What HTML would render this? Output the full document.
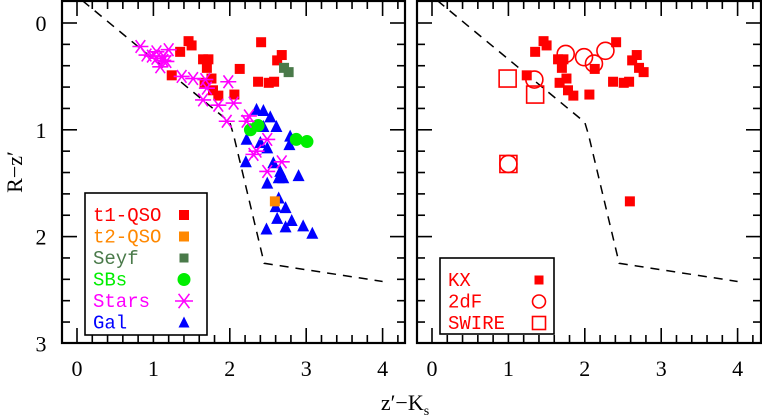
<!DOCTYPE html>
<html><head><meta charset="utf-8"><style>
html,body{margin:0;padding:0;background:#fff;}
svg{display:block;font-family:"Liberation Serif",serif;}
.lg{font-family:"Liberation Mono",monospace;font-size:19px;}
</style></head><body>
<svg id="chart" width="762" height="416" viewBox="0 0 762 416" xmlns="http://www.w3.org/2000/svg">
<g id="pl"></g>
<g id="pr"></g>
<text x="22" y="172" font-size="22" text-anchor="middle" transform="rotate(-90 22 172)">R−z′</text>
<text x="405" y="410" font-size="22" text-anchor="middle">z′−K<tspan font-size="14" dy="5">s</tspan></text>
</svg>
<script>
const xTicks=[0,1,2,3,4];
const yTicks=[0,1,2,3];
const boundaryX=[0.07,2.0,2.05,2.45,4.0];
const boundaryY=[-0.21,0.93,1.05,2.25,2.42];
const t1X=[1.46,1.50,1.35,1.65,1.72,1.70,1.24,1.76,1.67,1.78,1.85,2.06,2.13,2.41,2.68,2.62,2.37,2.51,2.58];
const t1Y=[0.17,0.21,0.27,0.34,0.34,0.42,0.49,0.52,0.56,0.63,0.68,0.67,0.43,0.18,0.30,0.35,0.55,0.56,0.55];
const t2X=[2.59];const t2Y=[1.67];
const seyX=[2.71,2.77];const seyY=[0.42,0.46];
const sbX=[2.27,2.37,2.87,3.01];const sbY=[1.00,0.96,1.09,1.11];
const starX=[0.83,0.91,0.98,1.04,1.13,1.20,1.17,1.09,1.37,1.52,1.68,1.70,1.65,1.85,1.98,2.05,1.96,2.25,2.22,2.35,2.49,2.31,2.49,2.68,1.13,1.04];
const starY=[0.22,0.30,0.31,0.33,0.31,0.25,0.36,0.41,0.50,0.52,0.53,0.61,0.72,0.77,0.55,0.75,0.92,0.87,0.92,1.20,1.09,1.23,1.39,1.30,0.35,0.27];
const galX=[2.35,2.44,2.53,2.61,2.44,2.22,2.40,2.49,2.79,2.78,2.21,2.57,2.66,2.64,2.70,2.90,2.49,2.64,2.73,2.62,2.81,2.73,2.48,2.96,3.08,2.60];
const galY=[0.81,0.82,0.88,0.97,0.97,1.09,1.12,1.17,1.06,1.14,1.30,1.31,1.39,1.45,1.45,1.43,1.50,1.64,1.73,1.83,1.85,1.91,1.93,1.90,1.97,1.72];
const kxX=[1.46,1.50,1.35,1.65,1.72,1.70,1.24,1.76,1.67,1.78,1.85,2.06,2.13,2.41,2.68,2.62,2.71,2.77,2.37,2.51,2.58,2.59];
const kxY=[0.17,0.21,0.27,0.34,0.34,0.42,0.49,0.52,0.56,0.63,0.68,0.67,0.43,0.18,0.30,0.35,0.42,0.46,0.55,0.56,0.55,1.67];
const dfX=[1.75,1.99,2.12,2.27,1.34,1.00];const dfY=[0.29,0.32,0.38,0.26,0.53,1.32];
const swX=[0.99,1.35,1.00];const swY=[0.52,0.67,1.32];

const NS='http://www.w3.org/2000/svg';
function mk(p,tag,at){const e=document.createElementNS(NS,tag);for(const k in at)e.setAttribute(k,at[k]);p.appendChild(e);return e;}
function panel(g,L,R,x0){
  const T=1,B=343,xs=76.4,y0=23,ys=106.8;
  const X=v=>x0+v*xs, Y=v=>y0+v*ys;
  // ticks
  for(let i=-1;i<=21;i++){const v=i*0.2;const px=X(v);if(px<=L+1||px>=R-1)continue;const len=(i%5===0)?15:8;
    let t=mk(g,'line',{x1:px,x2:px,y1:B,y2:B-len,stroke:'#000','stroke-width':1.6});
    
    t=mk(g,'line',{x1:px,x2:px,y1:T,y2:T+len,stroke:'#000','stroke-width':1.6});
    }
  for(let i=-1;i<=15;i++){const v=i*0.2;const py=Y(v);if(py<=T+1||py>=B-1)continue;const len=(i%5===0)?15:8;
    let t=mk(g,'line',{y1:py,y2:py,x1:L,x2:L+len,stroke:'#000','stroke-width':1.6});
    
    t=mk(g,'line',{y1:py,y2:py,x1:R,x2:R-len,stroke:'#000','stroke-width':1.6});
    }
  for(const v of xTicks){const t=mk(g,'text',{x:X(v),y:376,'font-size':22,'text-anchor':'middle'});t.textContent=v;
    }
  // boundary
  const d=boundaryX.map((v,i)=>(i?'L':'M')+X(v)+' '+Y(boundaryY[i])).join(' ');
  const bl=mk(g,'path',{d:d,fill:'none',stroke:'#000','stroke-width':1.5,'stroke-dasharray':'9 7'});
  
  const f=mk(g,'rect',{x:L,y:T,width:R-L,height:B-T,fill:'none',stroke:'#000','stroke-width':2.2});
  
  return {X,Y};
}
function sq(g,x,y,s,fill,stroke,name){const e=mk(g,'rect',{x:x-s/2,y:y-s/2,width:s,height:s,fill:fill,stroke:stroke||'none','stroke-width':1.6});
  }
function circ(g,x,y,r,fill,stroke,name){const e=mk(g,'circle',{cx:x,cy:y,r:r,fill:fill,stroke:stroke||'none','stroke-width':1.6});
  }
function tri(g,x,y,s,col,name){const e=mk(g,'polygon',{points:`${x},${y-s*0.55} ${x-s/2},${y+s*0.45} ${x+s/2},${y+s*0.45}`,fill:col});
  }
function star(g,x,y,r,col,name){const e=mk(g,'path',{d:`M${x-r} ${y}H${x+r}M${x-r*0.6} ${y-r*0.8}L${x+r*0.6} ${y+r*0.8}M${x-r*0.6} ${y+r*0.8}L${x+r*0.6} ${y-r*0.8}`,stroke:col,'stroke-width':1.6,fill:'none'});
  }

const gl=document.getElementById('pl'), gr=document.getElementById('pr');
const A=panel(gl,62,405,77);
for(const v of yTicks){const t=mk(gl,'text',{x:41,y:A.Y(v)+8,'font-size':22,'text-anchor':'middle'});t.textContent=v;
  }
t1X.forEach((v,i)=>sq(gl,A.X(v),A.Y(t1Y[i]),10,'#f00',null,'t1-qso-point'));
seyX.forEach((v,i)=>sq(gl,A.X(v),A.Y(seyY[i]),10,'#4a7a4a',null,'seyfert-point'));
galX.forEach((v,i)=>tri(gl,A.X(v),A.Y(galY[i]),12,'#00f','galaxy-point'));
sbX.forEach((v,i)=>circ(gl,A.X(v),A.Y(sbY[i]),6.5,'#0e0',null,'starburst-point'));
t2X.forEach((v,i)=>sq(gl,A.X(v),A.Y(t2Y[i]),10,'#f80',null,'t2-qso-point'));
starX.forEach((v,i)=>star(gl,A.X(v),A.Y(starY[i]),8,'#f0f','star-point'));

const Bp=panel(gr,417,761,432);
kxX.forEach((v,i)=>sq(gr,Bp.X(v),Bp.Y(kxY[i]),10,'#f00',null,'kx-point'));
dfX.forEach((v,i)=>circ(gr,Bp.X(v),Bp.Y(dfY[i]),8.5,'none','#f00','2df-point'));
swX.forEach((v,i)=>sq(gr,Bp.X(v),Bp.Y(swY[i]),17,'none','#f00','swire-point'));

// legends
function legend(g,x,y,w,h,items,mx){
  const r=mk(g,'rect',{x:x,y:y,width:w,height:h,fill:'#fff',stroke:'#000','stroke-width':1.6});
  
  items.forEach((it,i)=>{const cy=y+22+i*21.5;
    const t=mk(g,'text',{x:x+8,y:cy+6,fill:it.c,'class':'lg'});t.textContent=it.l;
    
    it.m(mx,cy);});
}
legend(gl,85,193,122,142,[
 {l:'t1-QSO',c:'#f00',m:(x,y)=>sq(gl,x,y,10,'#f00',null,'legend-marker')},
 {l:'t2-QSO',c:'#f80',m:(x,y)=>sq(gl,x,y,10,'#f80',null,'legend-marker')},
 {l:'Seyf',c:'#4a7a4a',m:(x,y)=>sq(gl,x,y,9,'#4a7a4a',null,'legend-marker')},
 {l:'SBs',c:'#0e0',m:(x,y)=>circ(gl,x,y,6.5,'#0e0',null,'legend-marker')},
 {l:'Stars',c:'#f0f',m:(x,y)=>star(gl,x,y,9,'#f0f','legend-marker')},
 {l:'Gal',c:'#00f',m:(x,y)=>tri(gl,x,y,11,'#00f','legend-marker')}],184);
legend(gr,440,258,114,76,[
 {l:'KX',c:'#f00',m:(x,y)=>sq(gr,x,y,9,'#f00',null,'legend-marker')},
 {l:'2dF',c:'#f00',m:(x,y)=>circ(gr,x,y,6.5,'none','#f00','legend-marker')},
 {l:'SWIRE',c:'#f00',m:(x,y)=>sq(gr,x,y,13,'none','#f00','legend-marker')}],539);
</script>
</body></html>
